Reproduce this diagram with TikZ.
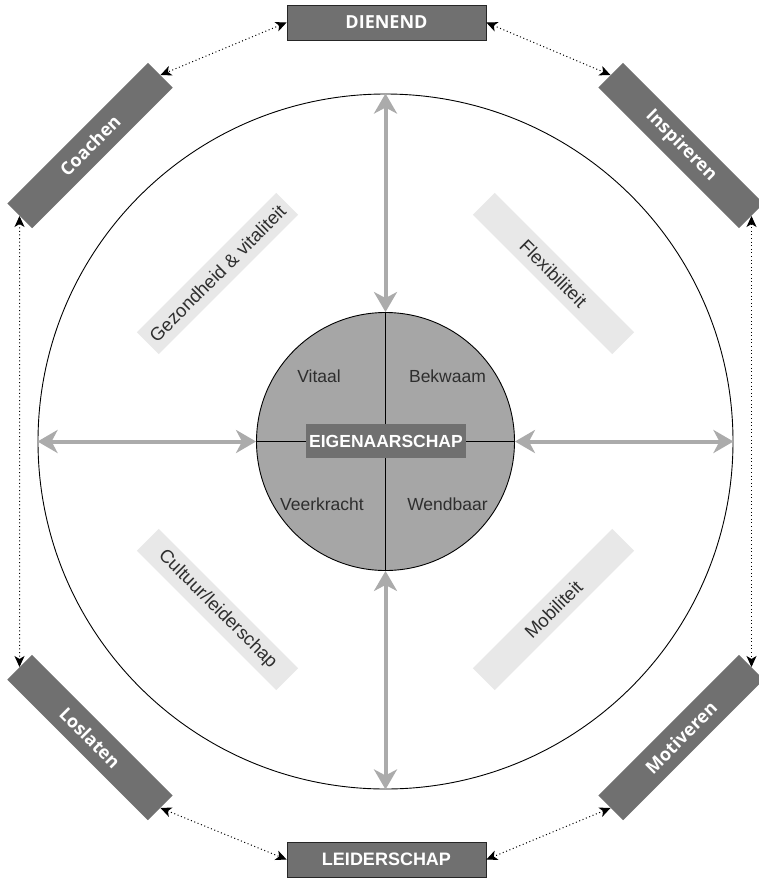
\documentclass[tikz,border=0pt]{standalone}
\usepackage{fontspec}
\setmainfont{Liberation Sans}
\newfontfamily\boxfont{Open Sans}
\usetikzlibrary{arrows.meta}
\definecolor{darkbox}{HTML}{707070}
\definecolor{core}{HTML}{A6A6A6}
\definecolor{lightbox}{HTML}{E8E8E8}
\definecolor{arrowgray}{HTML}{ABABAB}
\definecolor{labeltext}{HTML}{2E2E2E}
\begin{document}
\begin{tikzpicture}[x=1pt,y=-1pt,
  rolebox/.style={fill=darkbox, text=white, minimum width=199pt, minimum height=35pt, inner sep=0pt,
    font=\boxfont\bfseries\fontsize{18}{18}\selectfont},
  polebox/.style={fill=darkbox, draw=black!85, line width=0.8pt, text=white, minimum width=199pt, minimum height=35pt, inner sep=0pt},
  themebox/.style={fill=lightbox, text=labeltext, minimum width=197pt, minimum height=31pt, inner sep=0pt,
    font=\fontsize{18.5}{18.5}\selectfont},
  quad/.style={text=labeltext, anchor=base, inner sep=0pt, font=\fontsize{17.5}{17.5}\selectfont},
  bigarrow/.style={draw=arrowgray, line width=4pt,
    {Stealth[length=20pt, width=23pt, inset=6pt]}-{Stealth[length=20pt, width=23pt, inset=6pt]}},
  dotconn/.style={draw=black, line width=1pt, dash pattern=on 1pt off 2.6pt,
    {Stealth[length=11pt, width=10pt, inset=3pt]}-{Stealth[length=11pt, width=10pt, inset=3pt]}}
]
\useasboundingbox (0,0) rectangle (759,879);
\clip (0,0) rectangle (759,879);

% outer circle
\node[draw=black, line width=0.9pt, circle, minimum size=695pt, inner sep=0pt] (O) at (385.5,441.5) {};

% inner circle
\node[draw=black, line width=0.9pt, fill=core, circle, minimum size=258pt, inner sep=0pt] (I) at (385.5,441.5) {};
\draw[line width=0.9pt] (I.north) -- (I.south);
\draw[line width=0.9pt] (I.west) -- (I.east);

% gray arrows
\draw[bigarrow] (O.north) -- (I.north);
\draw[bigarrow] (I.south) -- (O.south);
\draw[bigarrow] (O.west) -- (I.west);
\draw[bigarrow] (I.east) -- (O.east);

% core label
\node[fill=darkbox, text=white, minimum width=160pt, minimum height=34pt, inner sep=0pt,
  font=\bfseries\fontsize{17.5}{17.5}\selectfont] (E) at (386,441) {EIGENAARSCHAP};

% quadrant words
\node[quad] (q1) at (319,382) {Vitaal};
\node[quad] (q2) at (447.5,382) {Bekwaam};
\node[quad] (q3) at (322,510) {Veerkracht};
\node[quad] (q4) at (447.5,510) {Wendbaar};

% theme labels
\node[themebox, rotate=45] (G) at (217.5,273.5) {Gezondheid \& vitaliteit};
\node[themebox, rotate=-45] (F) at (553.5,273.5) {Flexibiliteit};
\node[themebox, rotate=-45] (Cu) at (217.5,609.5) {Cultuur/leiderschap};
\node[themebox, rotate=45] (Mo) at (553.5,609.5) {Mobiliteit};

% poles
\node[polebox, font=\boxfont\bfseries\fontsize{18}{18}\selectfont] (D) at (386.5,22.5) {DIENEND};
\node[polebox, font=\bfseries\fontsize{18}{18}\selectfont] (LE) at (386.5,859.5) {LEIDERSCHAP};

% roles
\node[rolebox, rotate=45] (C) at (90,145.5) {Coachen};
\node[rolebox, rotate=-45] (In) at (681,145.5) {Inspireren};
\node[rolebox, rotate=-45] (Lo) at (90,737.5) {Loslaten};
\node[rolebox, rotate=45] (Mv) at (681,737.5) {Motiveren};

% dotted connectors
\draw[dotconn] (D.west) -- (C.east);
\draw[dotconn] (D.east) -- (In.west);
\draw[dotconn] (C.west) -- (Lo.west);
\draw[dotconn] (In.east) -- (Mv.east);
\draw[dotconn] (Lo.east) -- (LE.west);
\draw[dotconn] (Mv.west) -- (LE.east);
\end{tikzpicture}
\end{document}
